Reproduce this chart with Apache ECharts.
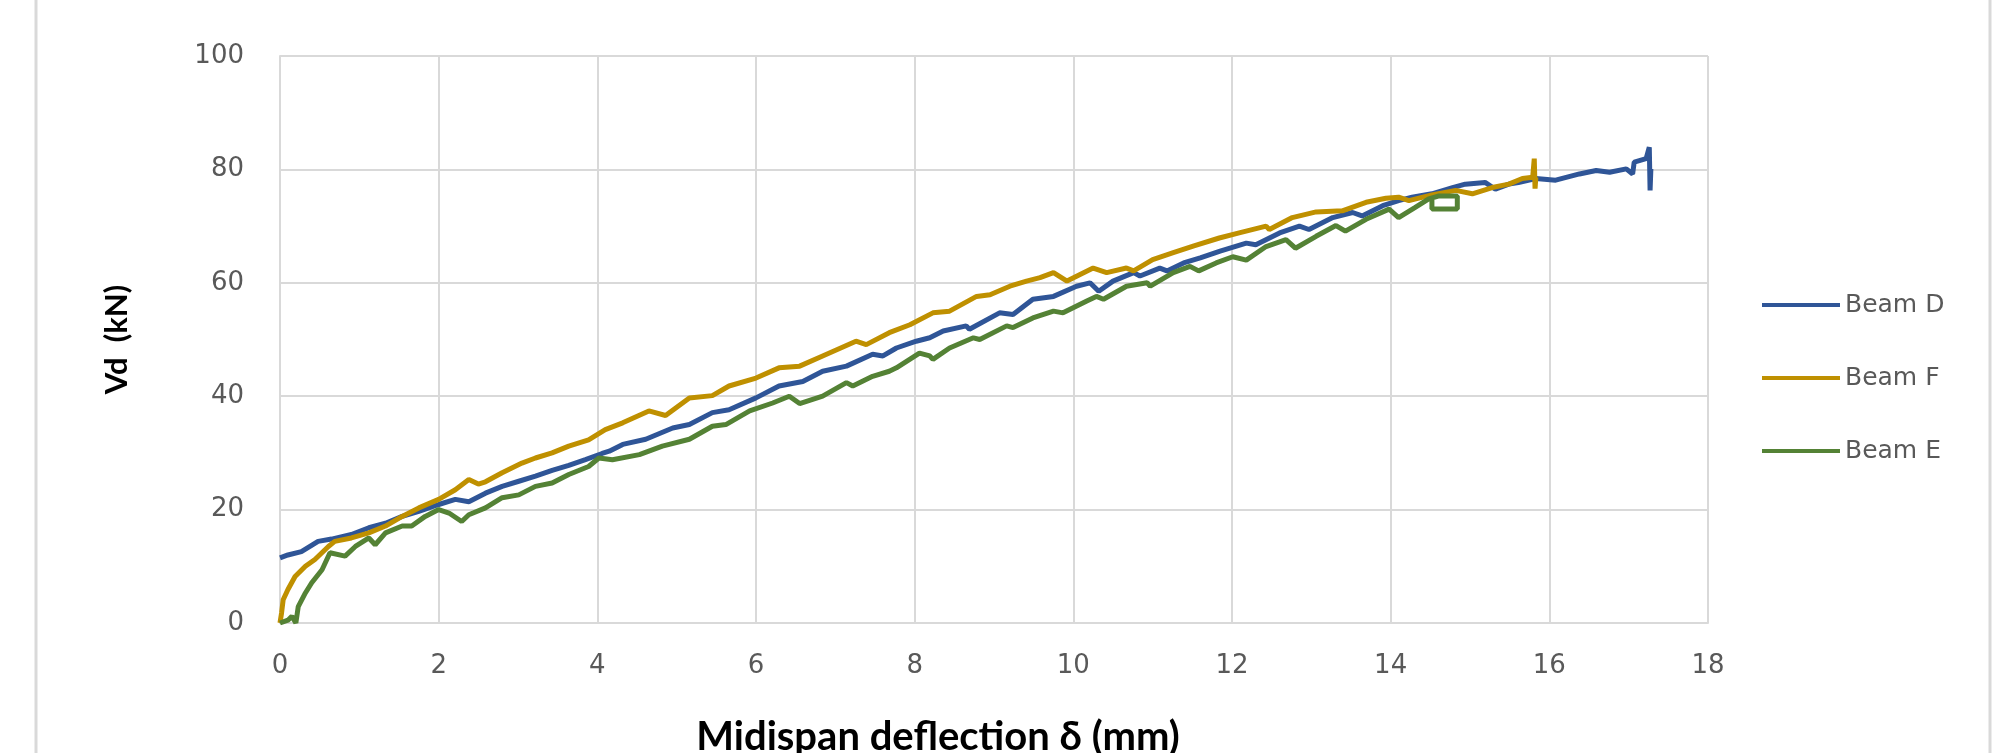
<!DOCTYPE html>
<html>
<head>
<meta charset="utf-8">
<title>Midispan deflection</title>
<script src="https://cdn.jsdelivr.net/npm/echarts@6/dist/echarts.min.js"></script>
<style>
  html, body { margin: 0; padding: 0; background: #ffffff; }
  #chart { width: 2009px; height: 753px; }
</style>
</head>
<body>
<div id="chart"></div>
<script>
// deflection (mm), load Vd (kN)
var beamD = [
  [0,11.5],[0.1,12],[0.27,12.6],[0.48,14.4],[0.65,14.8],[0.9,15.6],[1.12,16.8],[1.33,17.6],
  [1.54,18.8],[1.75,19.7],[2.0,20.9],[2.21,21.8],[2.38,21.4],[2.59,22.9],[2.8,24.1],[3.01,25],
  [3.22,25.9],[3.43,26.9],[3.64,27.8],[3.85,28.8],[4.06,29.9],[4.15,30.3],[4.32,31.5],[4.61,32.4],
  [4.95,34.4],[5.16,35],[5.45,37.1],[5.66,37.6],[6.0,39.7],[6.29,41.8],[6.59,42.6],[6.84,44.4],
  [7.14,45.3],[7.47,47.4],[7.6,47.1],[7.77,48.5],[8.02,49.7],[8.19,50.3],[8.36,51.5],[8.65,52.4],
  [8.69,51.8],[9.07,54.7],[9.24,54.4],[9.49,57.1],[9.75,57.6],[10.04,59.4],[10.21,60],[10.32,58.5],
  [10.5,60.3],[10.76,61.8],[10.84,61.2],[11.09,62.6],[11.18,62.1],[11.39,63.5],[11.6,64.4],[11.85,65.6],
  [12.18,67],[12.3,66.7],[12.6,68.8],[12.85,70],[12.97,69.4],[13.27,71.5],[13.52,72.4],[13.64,71.8],
  [13.9,73.6],[14.1,74.5],[14.27,75.1],[14.52,75.7],[14.78,76.8],[14.94,77.4],[15.19,77.7],[15.32,76.5],
  [15.49,77.4],[15.61,77.7],[15.83,78.4],[16.08,78.1],[16.38,79.2],[16.59,79.8],[16.76,79.5],[16.97,80.1],
  [17.05,79.2],[17.07,81.3],[17.22,81.9],[17.26,83.9],[17.27,76.3],[17.28,80.1]
];
var beamF = [
  [0,0],[0.02,1.8],[0.04,4.1],[0.1,5.9],[0.19,8.2],[0.32,10],[0.44,11.2],[0.61,13.5],[0.69,14.4],
  [0.9,15],[1.12,15.9],[1.33,17.1],[1.54,18.8],[1.75,20.3],[2.0,21.8],[2.21,23.5],[2.38,25.3],
  [2.5,24.5],[2.59,24.9],[2.8,26.5],[3.05,28.2],[3.22,29.1],[3.43,30],[3.64,31.2],[3.89,32.3],
  [4.1,34.1],[4.32,35.3],[4.65,37.4],[4.86,36.6],[5.16,39.7],[5.45,40.1],[5.66,41.8],[6.0,43.2],
  [6.29,45],[6.55,45.3],[6.84,47.1],[7.26,49.7],[7.39,49.1],[7.68,51.2],[7.94,52.6],[8.23,54.7],
  [8.44,55],[8.78,57.6],[8.95,57.9],[9.2,59.4],[9.41,60.3],[9.58,60.9],[9.75,61.8],[9.92,60.3],
  [10.25,62.6],[10.42,61.8],[10.67,62.6],[10.76,62.1],[11.0,64.1],[11.26,65.3],[11.52,66.5],[11.84,67.9],
  [12.09,68.8],[12.43,70],[12.47,69.4],[12.76,71.5],[13.06,72.5],[13.39,72.7],[13.69,74.2],[13.94,74.9],
  [14.1,75.1],[14.23,74.5],[14.52,75.5],[14.82,76.3],[15.03,75.7],[15.28,76.8],[15.49,77.4],[15.66,78.4],
  [15.79,78.6],[15.81,81.9],[15.82,76.6],[15.83,78.6]
];
var beamE = [
  [0,0],[0.1,0.5],[0.15,1.2],[0.2,0],[0.23,2.9],[0.32,5.3],[0.4,7.1],[0.53,9.4],[0.63,12.4],
  [0.82,11.8],[0.95,13.5],[1.12,15],[1.2,13.8],[1.33,15.9],[1.54,17.1],[1.66,17.1],[1.83,18.8],
  [2.0,20],[2.13,19.4],[2.29,17.9],[2.38,19.1],[2.59,20.3],[2.8,22.1],[3.01,22.6],[3.22,24.1],
  [3.43,24.7],[3.64,26.2],[3.89,27.6],[4.02,29.1],[4.19,28.8],[4.53,29.7],[4.82,31.2],[5.16,32.4],
  [5.45,34.7],[5.62,35],[5.92,37.4],[6.21,38.8],[6.42,40],[6.55,38.7],[6.84,40],[7.14,42.4],
  [7.22,41.8],[7.47,43.5],[7.68,44.4],[7.77,45],[8.06,47.6],[8.19,47.1],[8.23,46.5],[8.44,48.5],
  [8.74,50.3],[8.82,50],[9.16,52.4],[9.24,52.1],[9.49,53.8],[9.75,55],[9.87,54.7],[10.17,56.8],
  [10.29,57.6],[10.38,57.1],[10.67,59.4],[10.93,60],[10.97,59.4],[11.26,61.8],[11.47,62.9],[11.58,62.1],
  [11.8,63.5],[12.01,64.6],[12.18,64],[12.43,66.4],[12.68,67.6],[12.8,66.1],[13.06,68.2],[13.31,70.1],
  [13.43,69.1],[13.69,71.2],[13.98,73],[14.1,71.5],[14.31,73.3],[14.48,74.8],[14.6,75.3],[14.84,75.3],
  [14.84,73.0],[14.52,73.0],[14.52,74.8]
];
var seriesNames = ["Beam D", "Beam F", "Beam E"];
var xTicks = { min: 0, max: 18, step: 2 };
var yTicks = { min: 0, max: 100, step: 20 };

var chart = echarts.init(document.getElementById("chart"));
var gridColor = "#d9d9d9";
var labelColor = "#595959";

function lineSeries(name, data, color) {
  return {
    name: name,
    type: "line",
    data: data,
    showSymbol: false,
    symbol: "none",
    lineStyle: { color: color, width: 5 },
    itemStyle: { color: color },
    animation: false
  };
}

chart.setOption({
  backgroundColor: "#ffffff",
  grid: { left: 280, right: 301, top: 56, bottom: 130, containLabel: false, outerBoundsMode: "none" },
  legend: {
    orient: "vertical",
    left: 1757,
    top: 287,
    icon: "rect",
    itemWidth: 78,
    itemHeight: 4,
    itemGap: 47,
    data: seriesNames,
    textStyle: { fontFamily: "DejaVu Sans", fontSize: 25, color: labelColor, lineHeight: 26 }
  },
  xAxis: {
    type: "value",
    min: xTicks.min,
    max: xTicks.max,
    interval: xTicks.step,
    name: "Midispan deflection δ (mm)",
    nameLocation: "middle",
    nameGap: 94,
    nameTextStyle: {
      fontFamily: "Lato", fontWeight: "bold", fontSize: 40, color: "#000000",
      padding: [0, 112, 0, 0]
    },
    axisLine: { show: true, lineStyle: { color: gridColor, width: 2 } },
    axisTick: { show: false },
    axisLabel: { margin: 30, fontFamily: "DejaVu Sans", fontSize: 26, color: labelColor },
    splitLine: { show: true, lineStyle: { color: gridColor, width: 2 } }
  },
  yAxis: {
    type: "value",
    min: yTicks.min,
    max: yTicks.max,
    interval: yTicks.step,
    name: "Vd  (kN)",
    nameLocation: "middle",
    nameGap: 148,
    nameRotate: 90,
    nameTextStyle: { fontFamily: "Lato", fontWeight: "bold", fontSize: 31, color: "#000000" },
    axisLine: { show: true, lineStyle: { color: gridColor, width: 2 } },
    axisTick: { show: false },
    axisLabel: { margin: 36, fontFamily: "DejaVu Sans", fontSize: 26, color: labelColor },
    splitLine: { show: true, lineStyle: { color: gridColor, width: 2 } }
  },
  graphic: [
    { type: "line", shape: { x1: 36, y1: 0, x2: 36, y2: 753 }, style: { stroke: gridColor, lineWidth: 3 } },
    { type: "line", shape: { x1: 1990, y1: 0, x2: 1990, y2: 753 }, style: { stroke: gridColor, lineWidth: 3 } }
  ],
  series: [
    lineSeries(seriesNames[0], beamD, "#2f5597"),
    lineSeries(seriesNames[1], beamF, "#bf9000"),
    lineSeries(seriesNames[2], beamE, "#548235")
  ]
});
</script>
</body>
</html>
